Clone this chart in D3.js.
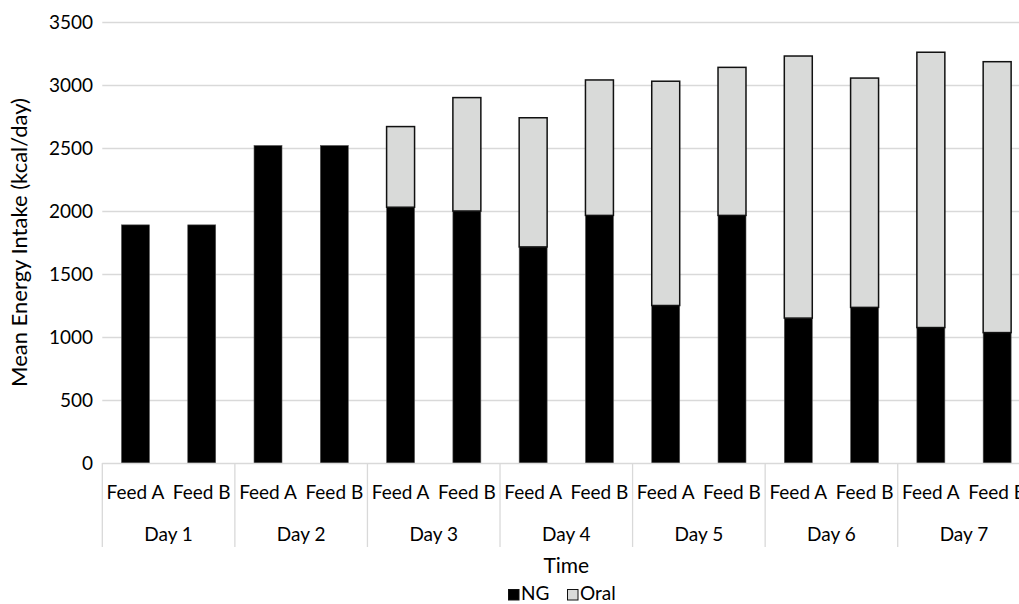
<!DOCTYPE html>
<html>
<head>
<meta charset="utf-8">
<script src="https://cdn.jsdelivr.net/npm/d3@7"></script>
<style>
  html, body { margin: 0; padding: 0; background: #fff; }
  svg { display: block; }
  text { font-family: Lato, "Open Sans", sans-serif; fill: #000; }
</style>
</head>
<body>
<svg id="chart" width="1019" height="604"></svg>
<script>
// ---- data ----
const days = ["Day 1", "Day 2", "Day 3", "Day 4", "Day 5", "Day 6", "Day 7"];
const feeds = ["Feed A", "Feed B"];
const seriesKeys = ["NG", "Oral"];
// values in order: Day1 A, Day1 B, Day2 A, ...
const ngValues   = [1890, 1890, 2520, 2520, 2030, 2000, 1715, 1965, 1250, 1965, 1150, 1235, 1075, 1035];
const oralValues = [0, 0, 0, 0, 640, 900, 1025, 1075, 1780, 1175, 2080, 1820, 2185, 2150];
const yTicks = [0, 500, 1000, 1500, 2000, 2500, 3000, 3500];
const yTitle = "Mean Energy Intake (kcal/day)";
const xTitle = "Time";

// ---- layout ----
const W = 1019, H = 604;
const plotLeft = 102.3, groupW = 132.57;
const plotRight = plotLeft + groupW * days.length;
const yTop = 22, yBottom = 463;
const FS = 19;

const rows = [];
days.forEach((d, i) => feeds.forEach((f, j) => {
  const k = i * feeds.length + j;
  rows.push({ id: d + "|" + f, day: d, feed: f, NG: ngValues[k], Oral: oralValues[k] });
}));

const svg = d3.select("#chart");

const x = d3.scaleBand().domain(rows.map(r => r.id)).range([plotLeft, plotRight]).paddingInner(0.578).paddingOuter(0.289);
const xDay = d3.scaleBand().domain(days).range([plotLeft, plotRight]);
const y = d3.scaleLinear().domain([0, 3500]).range([yBottom, yTop]);

// gridlines
svg.append("g").selectAll("line").data(yTicks.filter(t => t > 0)).join("line")
  .attr("x1", plotLeft).attr("x2", plotRight)
  .attr("y1", d => Math.round(y(d)) + 0.5).attr("y2", d => Math.round(y(d)) + 0.5)
  .attr("stroke", "#d9d9d9").attr("stroke-width", 1.3);

// y axis tick labels
const yAxis = d3.axisLeft(y).tickValues(yTicks).tickSize(0).tickPadding(0).tickFormat(d3.format("d"));
svg.append("g").attr("transform", `translate(${93},0)`).call(yAxis)
  .call(g => g.select(".domain").remove())
  .call(g => g.selectAll("text").attr("font-size", FS).attr("font-family", "Lato, sans-serif").attr("dy", "0.35em").attr("fill", "#000"));

// stacked bars
const stack = d3.stack().keys(seriesKeys)(rows);
const fills = { NG: "#000000", Oral: "#d9dad9" };
stack.forEach(s => {
  svg.append("g").selectAll("rect").data(s.filter(d => d[1] - d[0] > 0)).join("rect")
    .attr("x", d => x(d.data.id))
    .attr("width", x.bandwidth())
    .attr("y", d => y(d[1]))
    .attr("height", d => y(d[0]) - y(d[1]))
    .attr("fill", fills[s.key])
    .attr("stroke", s.key === "Oral" ? "#111" : "#555")
    .attr("stroke-width", s.key === "Oral" ? 1.5 : 0.6);
});

// x axis baseline
svg.append("line").attr("x1", plotLeft).attr("x2", plotRight)
  .attr("y1", yBottom + 0.5).attr("y2", yBottom + 0.5)
  .attr("stroke", "#d9d9d9").attr("stroke-width", 1.3);

// group separators
const seps = days.map(d => xDay(d)).concat([plotRight]);
svg.append("g").selectAll("line").data(seps).join("line")
  .attr("x1", d => d).attr("x2", d => d)
  .attr("y1", yBottom).attr("y2", 547)
  .attr("stroke", "#d9d9d9").attr("stroke-width", 1.3);

// feed labels
svg.append("g").selectAll("text").data(rows).join("text")
  .attr("x", d => x(d.id) + x.bandwidth() / 2)
  .attr("y", 492).attr("dy", "0.35em")
  .attr("text-anchor", "middle").attr("font-size", FS)
  .text(d => d.feed);

// day labels
svg.append("g").selectAll("text").data(days).join("text")
  .attr("x", d => xDay(d) + xDay.bandwidth() / 2)
  .attr("y", 534).attr("dy", "0.35em")
  .attr("text-anchor", "middle").attr("font-size", FS)
  .text(d => d);

// axis titles
svg.append("text").attr("x", (plotLeft + plotRight) / 2).attr("y", 566).attr("dy", "0.35em")
  .attr("text-anchor", "middle").attr("font-size", 21).text(xTitle);
svg.append("text").attr("transform", `translate(19,${(yTop + yBottom) / 2}) rotate(-90)`)
  .attr("dy", "0.35em").attr("text-anchor", "middle").attr("font-size", 22).text(yTitle);

// legend
const legend = svg.append("g");
const legItems = [{ key: "NG", x: 508 }, { key: "Oral", x: 567 }];
legItems.forEach(it => {
  legend.append("rect").attr("x", it.x + 0.5).attr("y", 589.5).attr("width", 10.5).attr("height", 10.5)
    .attr("fill", fills[it.key]).attr("stroke", "#111").attr("stroke-width", 1);
  legend.append("text").attr("x", it.x + 13).attr("y", 593).attr("dy", "0.35em")
    .attr("font-size", FS).text(it.key);
});
</script>
</body>
</html>
